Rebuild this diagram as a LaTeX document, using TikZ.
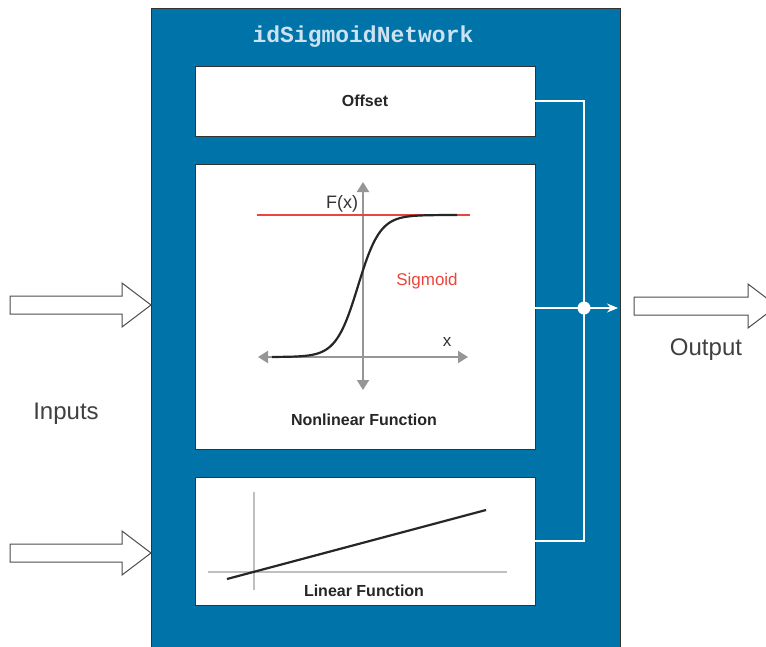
\documentclass[tikz,border=0pt]{standalone}
\usepackage{fontspec}
\setmainfont{Liberation Sans}
\setmonofont{Liberation Mono}
\usetikzlibrary{positioning, arrows.meta, calc}

\definecolor{netblue}{RGB}{0,115,168}
\definecolor{titleblue}{RGB}{205,226,240}
\definecolor{sigred}{RGB}{236,70,60}
\definecolor{axisgray}{RGB}{150,150,150}

\begin{document}
\begin{tikzpicture}[
  x=1pt, y=-1pt,
  netbox/.style={draw=black!80, fill=netblue, line width=0.8pt, minimum width=469pt, minimum height=642pt},
  partbox/.style={draw=black!80, fill=white, line width=0.8pt, minimum width=340pt, inner sep=0pt},
  boxtext/.style={font=\fontsize{16}{18}\selectfont\bfseries, text=black!85},
  sidetext/.style={font=\fontsize{24}{28}\selectfont, text=black!75},
  wire/.style={draw=white, line width=1.6pt},
  fatarrow/.style={draw=black!70, fill=white, line width=1pt, line join=miter},
  axis/.style={draw=axisgray, line width=2pt},
  curve/.style={draw=black!85, line width=2.2pt}
]
  \useasboundingbox (0,0) rectangle (766,646);
  \begin{scope}
  \clip (0,0) rectangle (766,646);

  % main block
  \node[netbox] (net) at (385.5,329) {};
  \node[font=\fontsize{23}{26}\selectfont\ttfamily\bfseries, text=titleblue] (title) at (363,37) {idSigmoidNetwork};

  % the three parts
  \node[partbox, minimum height=70pt] (offset) at (365,101) {};
  \node[boxtext] (offsettext) at (offset) {Offset};
  \node[partbox, minimum height=285pt] (nonlin) at (365,306.5) {};
  \node[partbox, minimum height=128pt] (lin) at (365,541) {};

  % sigmoid plot
  \draw[axis, {Triangle[length=10pt,width=12pt]}-{Triangle[length=10pt,width=12pt]}] (258,357) -- (468,357);
  \draw[axis, {Triangle[length=10pt,width=12pt]}-{Triangle[length=10pt,width=12pt]}] (363,390) -- (363,182);
  \draw[draw=sigred, line width=1.3pt] (257,215) -- (470,215);
  \draw[curve] plot[domain=272:457, samples=90, smooth] (\x, {357-142/(1+exp(-(\x-358)/11))});
  \node[font=\fontsize{18}{20}\selectfont, text=black!80] (fx) at (342,204) {F(x)};
  \node[font=\fontsize{17}{20}\selectfont, text=black!80] (xlab) at (447,342) {x};
  \node[font=\fontsize{17}{20}\selectfont, text=sigred] (sig) at (427,281) {Sigmoid};
  \node[boxtext] (nonlintext) at (364,420) {Nonlinear Function};

  % linear plot
  \draw[draw=black!25, line width=1.2pt] (208,572) -- (507,572);
  \draw[draw=black!25, line width=1.2pt] (254,492) -- (254,590);
  \draw[curve] (227,579) -- (486,510);
  \node[boxtext] (lintext) at (364,591) {Linear Function};

  % summing wires
  \coordinate (jn) at (584,308);
  \draw[wire] (offset.east) -| (jn);
  \draw[wire] (lin.east) -| (jn);
  \draw[wire] (nonlin.east |- jn) -- (jn);
  \draw[wire, -{Stealth[length=11pt,width=9pt]}] (jn) -- (618,308);
  \fill[white] (jn) circle (6.5pt);

  % hollow arrows
  \foreach \y in {305,553}
    \draw[fatarrow] (10,\y-9) -- (122,\y-9) -- (122,\y-22) -- (151,\y) -- (122,\y+22) -- (122,\y+9) -- (10,\y+9) -- cycle;
  \draw[fatarrow] (634,297) -- (748,297) -- (748,284) -- (777,306) -- (748,328) -- (748,315) -- (634,315) -- cycle;
  \end{scope}

  \node[sidetext] (inputs) at (66,414) {Inputs};
  \node[sidetext] (output) at (706,350) {Output};
\end{tikzpicture}
\end{document}
